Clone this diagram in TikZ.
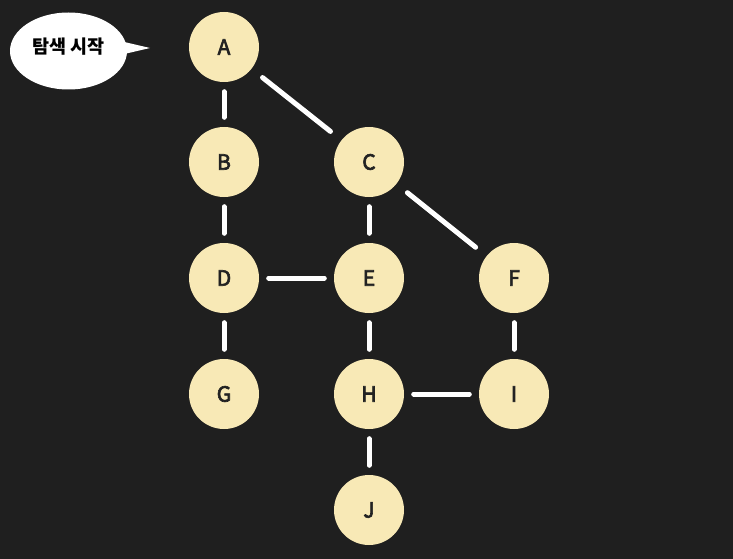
\documentclass[tikz,border=0pt]{standalone}
\usepackage{fontspec}
\newfontfamily\kr{Noto Sans CJK KR}
\newfontfamily\krm[FakeBold=3]{Noto Sans CJK KR}
\usetikzlibrary{shapes.geometric}
\definecolor{bg}{HTML}{1F1F1F}
\definecolor{nodefill}{HTML}{F8E9B6}
\definecolor{txt}{HTML}{222222}
\begin{document}
\begin{tikzpicture}[x=1pt,y=-1pt,
  vtx/.style={circle,fill=nodefill,minimum size=70pt,inner sep=0pt,text=txt,font=\krm\fontsize{21}{21}\selectfont},
  edge/.style={draw=white,line width=5pt,line cap=round,shorten <=9.5pt,shorten >=9.5pt},
  dedge/.style={edge,shorten <=14pt,shorten >=14pt}]
\fill[bg] (0,0) rectangle (733,559);
\useasboundingbox (0,0) rectangle (733,559);
\node[vtx] (A) at (224,47) {A};
\node[vtx] (B) at (224,162) {B};
\node[vtx] (C) at (369,162) {C};
\node[vtx] (D) at (224,278) {D};
\node[vtx] (E) at (369,278) {E};
\node[vtx] (F) at (514,278) {F};
\node[vtx] (G) at (224,394) {G};
\node[vtx] (H) at (369,394) {H};
\node[vtx] (I) at (514,394) {I};
\node[vtx] (J) at (369,510) {J};
\draw[edge] (A) -- (B);
\draw[dedge] (A) -- (C);
\draw[edge] (B) -- (D);
\draw[edge] (C) -- (E);
\draw[dedge] (C) -- (F);
\draw[edge] (D) -- (E);
\draw[edge] (D) -- (G);
\draw[edge] (E) -- (H);
\draw[edge] (F) -- (I);
\draw[edge] (H) -- (I);
\draw[edge] (H) -- (J);
% speech bubble
\coordinate (tip) at (150,48);
\fill[white] (120,41) -- (tip) -- (120,55) -- cycle;
\node[ellipse,fill=white,minimum width=117pt,minimum height=77pt,inner sep=0pt] (bubble) at (68.5,51) {};
\node[text=black,font=\kr\bfseries\fontsize{18.5}{18.5}\selectfont] (label) at (68.5,47) {탐색 시작};
\end{tikzpicture}
\end{document}
